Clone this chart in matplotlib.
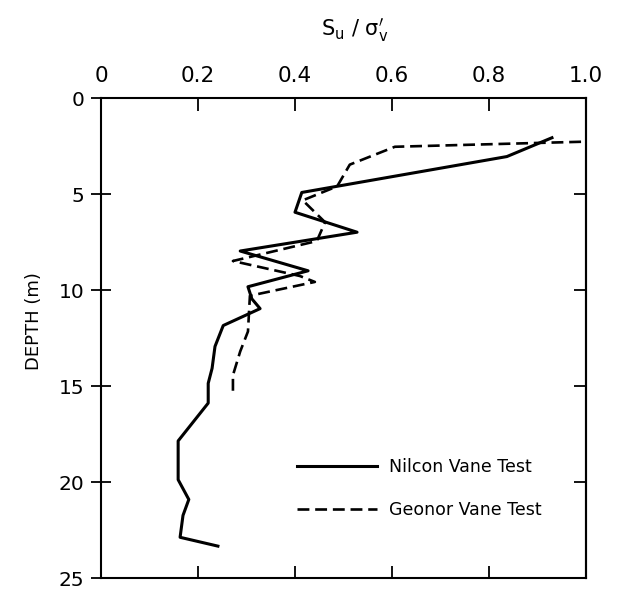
import matplotlib
matplotlib.use("Agg")
import matplotlib.pyplot as plt

# Su/sigma'v profiles against depth
nilcon_ratio = [0.93, 0.837, 0.414, 0.40, 0.528, 0.287, 0.427, 0.303, 0.311, 0.328,
                0.252, 0.235, 0.229, 0.221, 0.221, 0.159, 0.159, 0.181, 0.169, 0.163, 0.241]
nilcon_depth = [2.07, 3.05, 4.92, 5.95, 6.99, 7.97, 9.0, 9.83, 10.46, 10.97,
                11.85, 12.94, 14.08, 14.86, 15.89, 17.86, 19.88, 20.91, 21.74, 22.88, 23.34]

geonor_ratio = [0.99, 0.606, 0.513, 0.487, 0.416, 0.462, 0.445, 0.272, 0.41, 0.441,
                0.307, 0.303, 0.287, 0.272, 0.272]
geonor_depth = [2.28, 2.54, 3.47, 4.6, 5.33, 6.47, 7.45, 8.49, 9.27, 9.58,
                10.3, 12.16, 13.2, 14.44, 15.53]

x_ticks = [0, 0.2, 0.4, 0.6, 0.8, 1.0]
x_labels = ["0", "0.2", "0.4", "0.6", "0.8", "1.0"]
depth_ticks = [0, 5, 10, 15, 20, 25]

fig = plt.figure(figsize=(6.2, 5.89), dpi=100)
ax = fig.add_axes([0.163, 1 - 578 / 589, 0.782, 480 / 589])

ax.plot(nilcon_ratio, nilcon_depth, color="black", lw=2.2, label="Nilcon Vane Test")
ax.plot(geonor_ratio, geonor_depth, color="black", lw=1.9,
        linestyle=(0, (4.5, 2.2)), label="Geonor Vane Test")

ax.set_xlim(0, 1.0)
ax.set_ylim(25, 0)

for s in ax.spines.values():
    s.set_linewidth(1.5)

ax.xaxis.tick_top()
ax.set_xticks(x_ticks)
ax.set_xticklabels(x_labels)
ax.tick_params(axis="x", which="both", top=True, bottom=True, direction="in",
               length=9, width=1.3, pad=9, labelsize=15.5, labeltop=True, labelbottom=False)

ax.set_yticks(depth_ticks)
ax.tick_params(axis="y", direction="inout", length=14, width=1.3, pad=5, labelsize=14.5)

# right-hand ticks point inwards only
ax_r = ax.secondary_yaxis("right")
ax_r.set_yticks(depth_ticks)
ax_r.tick_params(direction="in", length=9, width=1.3, labelright=False)
ax_r.spines["right"].set_linewidth(1.5)

fig.text(355 / 620, 1 - 30 / 589, r"$\mathrm{S_u\ /\ \sigma_v'}$",
         ha="center", va="center", fontsize=15)
fig.text(34 / 620, 1 - 321 / 589, "DEPTH (m)", rotation=90,
         ha="center", va="center", fontsize=13)

ax.legend(loc="upper left", bbox_to_anchor=(0.404, 0.25), frameon=False,
          fontsize=12.5, handlelength=4.6, handletextpad=0.7, labelspacing=1.45,
          borderpad=0, borderaxespad=0)

fig.savefig("out.png", dpi=100)
